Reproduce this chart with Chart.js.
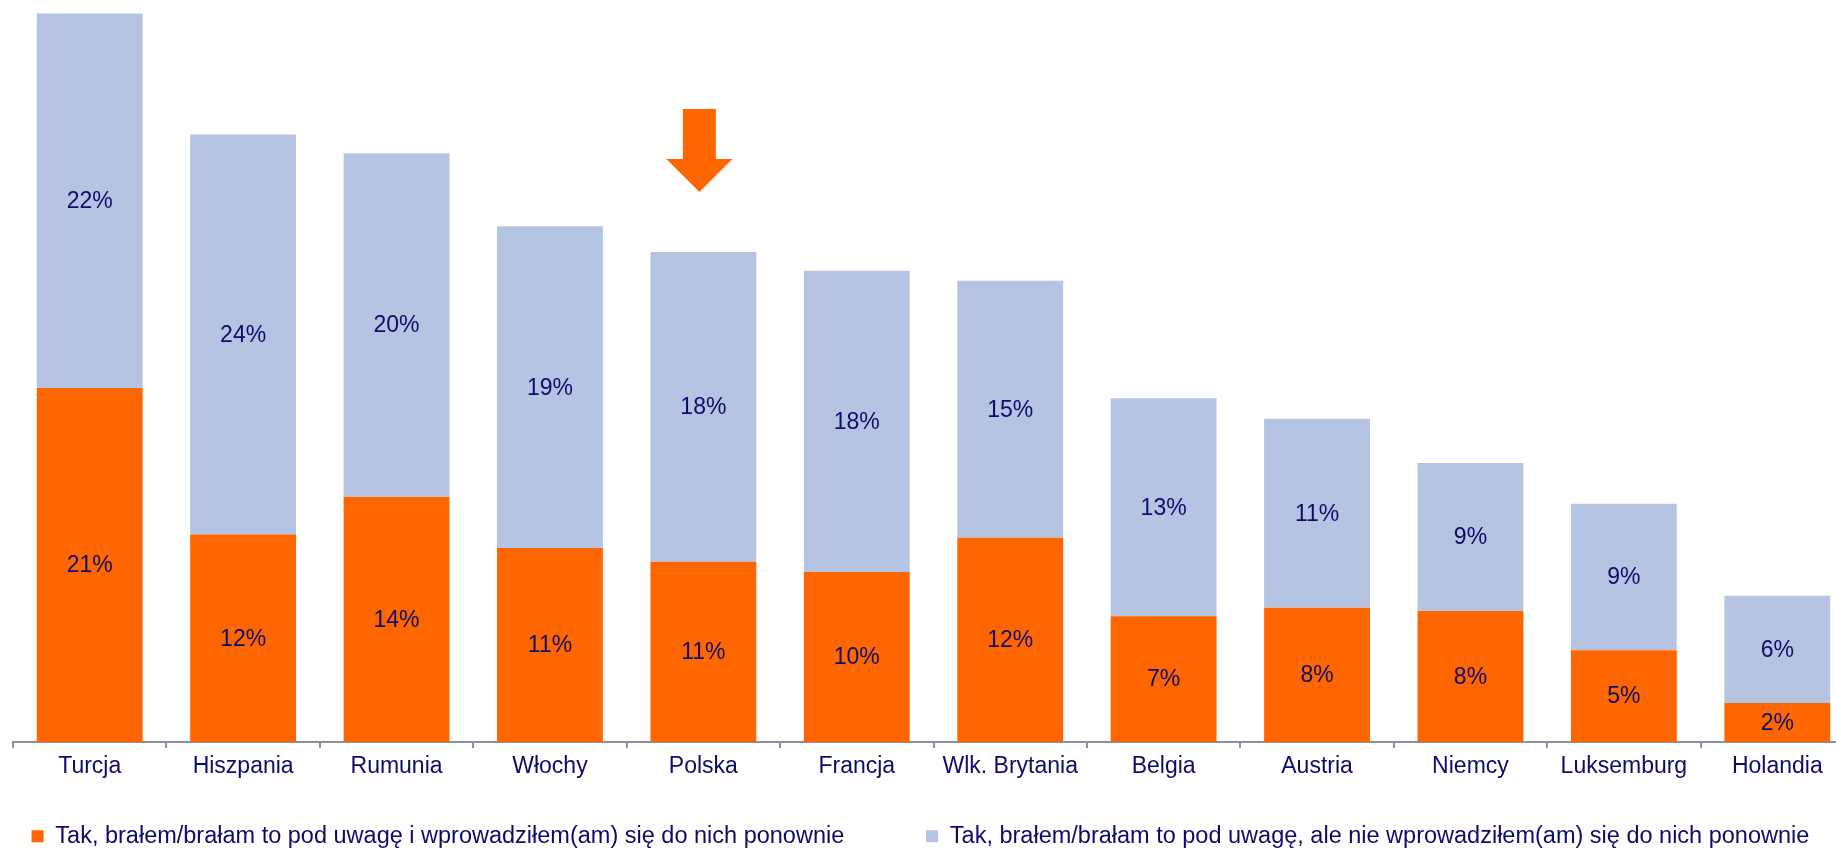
<!DOCTYPE html>
<html>
<head>
<meta charset="utf-8">
<script src="https://cdn.jsdelivr.net/npm/chart.js@4/dist/chart.umd.min.js"></script>
<style>
  html, body { margin: 0; padding: 0; background: #ffffff; overflow: hidden; }
  #wrap { width: 1836px; height: 850px; overflow: hidden; position: relative; }
  canvas { display: block; }
</style>
</head>
<body>
<div id="wrap"><canvas id="c" width="1856" height="858"></canvas></div>
<script>
// ---- data ----
const categories = ['Turcja', 'Hiszpania', 'Rumunia', 'Włochy', 'Polska', 'Francja', 'Wlk. Brytania', 'Belgia', 'Austria', 'Niemcy', 'Luksemburg', 'Holandia'];
const seriesNames = [
  'Tak, brałem/brałam to pod uwagę i wprowadziłem(am) się do nich ponownie',
  'Tak, brałem/brałam to pod uwagę, ale nie wprowadziłem(am) się do nich ponownie'
];
const movedBack = [20.8, 12.2, 14.4, 11.4, 10.6, 10.0, 12.0, 7.4, 7.9, 7.7, 5.4, 2.3];
const consideredOnly = [22.0, 23.5, 20.2, 18.9, 18.2, 17.7, 15.1, 12.8, 11.1, 8.7, 8.6, 6.3];
const highlighted = 'Polska';

const FONT = '"Liberation Sans", Arial, Helvetica, sans-serif';
const NAVY = '#0c0c6a';
const ORANGE = '#ff6600';
const LIGHTBLUE = '#b4c4e2';
const AXIS = '#8c8fa3';
const NBSP = '\u00a0';

const valueLabels = {
  id: 'valueLabels',
  afterDatasetsDraw(chart) {
    const ctx = chart.ctx;
    ctx.save();
    ctx.font = '23px ' + FONT;
    ctx.fillStyle = NAVY;
    ctx.textAlign = 'center';
    ctx.textBaseline = 'middle';
    chart.data.datasets.forEach((ds, di) => {
      const meta = chart.getDatasetMeta(di);
      meta.data.forEach((el, i) => {
        const v = ds.data[i];
        const y = (el.y + el.base) / 2;
        ctx.fillText(Math.round(v) + '%', el.x, y + 1);
      });
    });
    ctx.restore();
  }
};

const arrowMarker = {
  id: 'arrowMarker',
  afterDatasetsDraw(chart) {
    const idx = categories.indexOf(highlighted);
    if (idx < 0) return;
    const el = chart.getDatasetMeta(1).data[idx];
    const cx = el.x - 4;
    const tip = el.y - 60;
    const headTop = tip - 33;
    const shaftTop = tip - 83;
    const ctx = chart.ctx;
    ctx.save();
    ctx.fillStyle = ORANGE;
    ctx.beginPath();
    ctx.moveTo(cx - 16.5, shaftTop);
    ctx.lineTo(cx + 16.5, shaftTop);
    ctx.lineTo(cx + 16.5, headTop);
    ctx.lineTo(cx + 33, headTop);
    ctx.lineTo(cx, tip);
    ctx.lineTo(cx - 33, headTop);
    ctx.lineTo(cx - 16.5, headTop);
    ctx.closePath();
    ctx.fill();
    ctx.restore();
  }
};

new Chart(document.getElementById('c'), {
  type: 'bar',
  data: {
    labels: categories,
    datasets: [
      { label: seriesNames[0], data: movedBack, backgroundColor: ORANGE, borderWidth: 0,
        barPercentage: 0.69, categoryPercentage: 1.0 },
      { label: seriesNames[1], data: consideredOnly, backgroundColor: LIGHTBLUE, borderWidth: 0,
        barPercentage: 0.69, categoryPercentage: 1.0 }
    ]
  },
  options: {
    responsive: false,
    animation: false,
    devicePixelRatio: 1,
    layout: { padding: { left: 13, right: 2, top: 0, bottom: 0 } },
    scales: {
      x: {
        stacked: true,
        border: { display: true, color: AXIS, width: 2 },
        grid: { display: true, drawOnChartArea: false, drawTicks: true, tickLength: 6, color: AXIS, lineWidth: 2, offset: true },
        ticks: { color: NAVY, font: { family: FONT, size: 23 }, padding: 5, maxRotation: 0, autoSkip: false }
      },
      y: {
        stacked: true,
        display: false,
        min: 0,
        max: 43.6
      }
    },
    plugins: {
      tooltip: { enabled: false },
      legend: {
        position: 'bottom',
        title: { display: true, text: '', padding: 0, font: { family: FONT, size: 24 } },
        labels: {
          color: NAVY,
          font: { family: FONT, size: 23.5 },
          boxWidth: 12,
          boxHeight: 12,
          padding: 10,
          generateLabels(chart) {
            const items = Chart.defaults.plugins.legend.labels.generateLabels(chart);
            items.forEach(it => { it.lineWidth = 0; it.strokeStyle = 'rgba(0,0,0,0)'; });
            if (items[0]) items[0].text = items[0].text + NBSP.repeat(11);
            if (items[1]) items[1].text = items[1].text + NBSP.repeat(4);
            return items;
          }
        }
      }
    }
  },
  plugins: [valueLabels, arrowMarker]
});
</script>
</body>
</html>
